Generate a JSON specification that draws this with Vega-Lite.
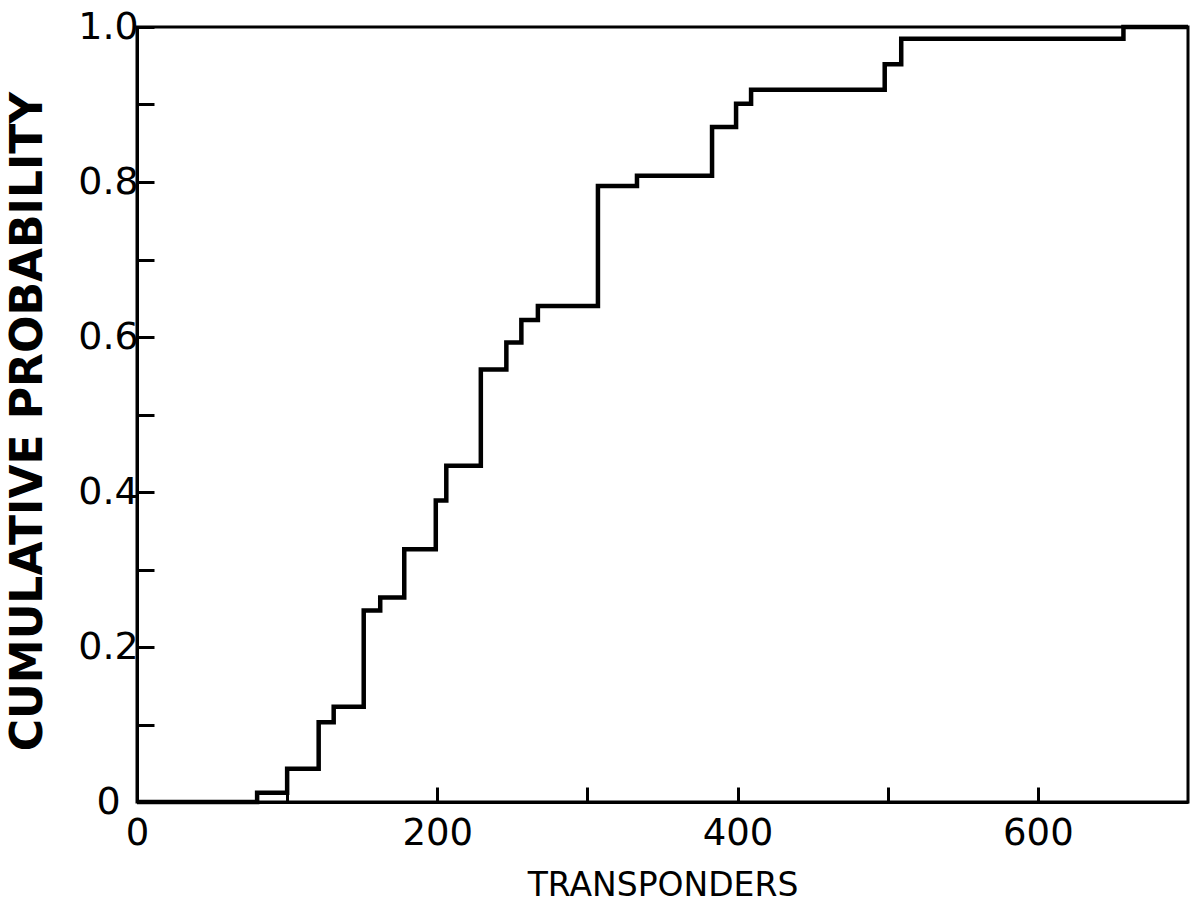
{
  "$schema": "https://vega.github.io/schema/vega-lite/v6.json",
  "width": 1051,
  "height": 775,
  "autosize": {"type": "none"},
  "padding": {"left": 137, "top": 27, "right": 10, "bottom": 104},
  "background": "white",
  "config": {
    "view": {"stroke": "black", "strokeWidth": 3},
    "axis": {
      "grid": false,
      "domainColor": "black",
      "domainWidth": 3,
      "tickColor": "black",
      "tickWidth": 3,
      "labelColor": "black",
      "labelFont": "DejaVu Sans",
      "titleColor": "black",
      "titleFont": "DejaVu Sans"
    }
  },
  "data": {
    "values": [
      {"transponders": 0, "probability": 0},
      {"transponders": 80, "probability": 0.012},
      {"transponders": 100, "probability": 0.043},
      {"transponders": 121, "probability": 0.103},
      {"transponders": 131, "probability": 0.123},
      {"transponders": 151, "probability": 0.247},
      {"transponders": 162, "probability": 0.264},
      {"transponders": 178, "probability": 0.326},
      {"transponders": 199, "probability": 0.389},
      {"transponders": 206, "probability": 0.434},
      {"transponders": 229, "probability": 0.558},
      {"transponders": 246, "probability": 0.593},
      {"transponders": 256, "probability": 0.622},
      {"transponders": 267, "probability": 0.64},
      {"transponders": 307, "probability": 0.795},
      {"transponders": 333, "probability": 0.808},
      {"transponders": 383, "probability": 0.871},
      {"transponders": 399, "probability": 0.901},
      {"transponders": 409, "probability": 0.919},
      {"transponders": 498, "probability": 0.952},
      {"transponders": 509, "probability": 0.985},
      {"transponders": 657, "probability": 1.0},
      {"transponders": 700, "probability": 1.0}
    ]
  },
  "mark": {"type": "line", "interpolate": "step-after", "color": "black", "strokeWidth": 4.5},
  "encoding": {
    "x": {
      "field": "transponders",
      "type": "quantitative",
      "scale": {"domain": [0, 700], "nice": false, "zero": false},
      "axis": {
        "title": "TRANSPONDERS",
        "titleFontSize": 33,
        "titleFontWeight": "normal",
        "titleBaseline": "middle",
        "titleY": 83,
        "values": [0, 100, 200, 300, 400, 500, 600],
        "labelExpr": "datum.value % 200 == 0 ? datum.label : ''",
        "labelFontSize": 37,
        "tickSize": -15,
        "labelPadding": 28,
        "labelFlush": false
      }
    },
    "y": {
      "field": "probability",
      "type": "quantitative",
      "scale": {"domain": [0, 1], "nice": false},
      "axis": {
        "title": "CUMULATIVE PROBABILITY",
        "titleFontSize": 44,
        "titleFontWeight": "bold",
        "titleAngle": -90,
        "titleBaseline": "middle",
        "titleAlign": "center",
        "titleX": -109,
        "titleY": 394,
        "values": [0, 0.1, 0.2, 0.3, 0.4, 0.5, 0.6, 0.7, 0.8, 0.9, 1.0],
        "labelExpr": "datum.value == 0 ? '0' : (round(datum.value * 10) % 2 == 0 ? format(datum.value, '.1f') : '')",
        "labelFontSize": 38,
        "tickSize": -17,
        "labelAlign": "center",
        "labelPadding": 46,
        "labelFlush": false
      }
    }
  }
}
